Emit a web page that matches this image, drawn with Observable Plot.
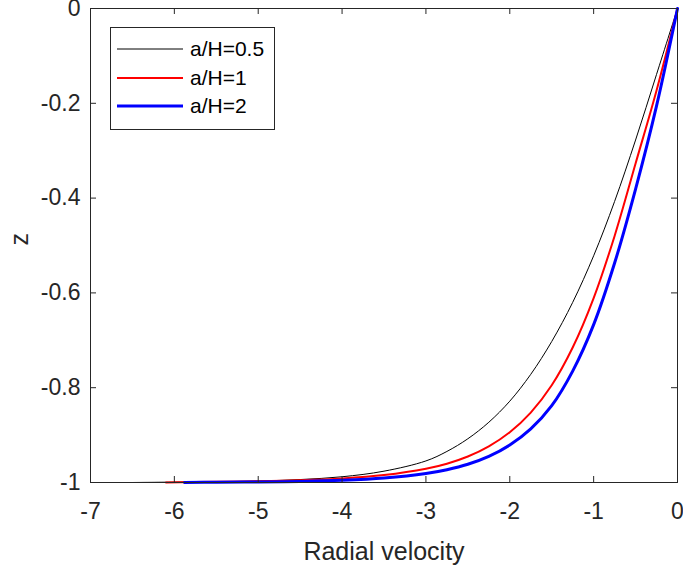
<!DOCTYPE html>
<html>
<head>
<meta charset="utf-8">
<script src="https://cdn.jsdelivr.net/npm/d3@7"></script>
<script src="https://cdn.jsdelivr.net/npm/@observablehq/plot@0.6"></script>
<style>
  html, body { margin: 0; padding: 0; background: #fff; }
  #wrap { position: relative; width: 683px; height: 574px; font-family: "Liberation Sans", Arial, sans-serif; }
  #legend { position: absolute; left: 110px; top: 27px; width: 165px; height: 103px; border: 1px solid #262626; background: #fff; box-sizing: border-box; }
  .row { position: absolute; left: 0; height: 28px; width: 100%; }
  .row svg { position: absolute; left: 6px; top: 0; }
  .row span { position: absolute; left: 79px; top: 0; line-height: 28px; font-size: 21px; color: #000; }
</style>
</head>
<body>
<div id="wrap"></div>
<script>
// ---- data ----
const seriesNames = ["a/H=0.5", "a/H=1", "a/H=2"];
const seriesColors = ["#000000", "#ff0000", "#0000ff"];
const seriesWidths = [1, 2, 3];

// radial velocity (x) and depth z (y), ordered from the deep end up to the surface
const xBlack = [-6.5, -6.0, -5.5, -5.0, -4.5, -4.0, -3.5, -3.0, -2.75, -2.5, -2.25, -2.0, -1.75, -1.5, -1.25, -1.0, -0.75, -0.5, -0.25, 0];
const zBlack = [-1.0, -0.9992, -0.9984, -0.9969, -0.9938, -0.9879, -0.9761, -0.9545, -0.9345, -0.9077, -0.8729, -0.8284, -0.7718, -0.7026, -0.620, -0.5217, -0.407, -0.2775, -0.139, 0];

const xRed = [-6.1, -5.5, -5.0, -4.5, -4.0, -3.5, -3.0, -2.75, -2.5, -2.25, -2.0, -1.75, -1.5, -1.25, -1.0, -0.75, -0.5, -0.25, 0];
const zRed = [-1.0, -0.9986, -0.9974, -0.9953, -0.9915, -0.9844, -0.9711, -0.9604, -0.9452, -0.9238, -0.894, -0.8525, -0.7949, -0.7153, -0.611, -0.4798, -0.327, -0.173, 0];

const xBlue = [-5.88, -5.5, -5.0, -4.5, -4.0, -3.5, -3.0, -2.75, -2.5, -2.25, -2.0, -1.75, -1.5, -1.25, -1.0, -0.75, -0.5, -0.25, 0];
const zBlue = [-1.0, -0.9995, -0.9989, -0.9977, -0.9953, -0.9905, -0.981, -0.973, -0.9616, -0.945, -0.921, -0.887, -0.838, -0.765, -0.667, -0.537, -0.381, -0.2055, 0];

const xTicks = [-7, -6, -5, -4, -3, -2, -1, 0];
const xTickLabels = ["-7", "-6", "-5", "-4", "-3", "-2", "-1", "0"];
const yTicks = [-1, -0.8, -0.6, -0.4, -0.2, 0];
const yTickLabels = ["-1", "-0.8", "-0.6", "-0.4", "-0.2", "0"];

const xLabel = "Radial velocity";
const yLabel = "z";

// ---- build ----
const W = 683, H = 574;
const mL = 90, mR = 6, mT = 8, mB = 92;
const plotW = W - mL - mR, plotH = H - mT - mB;
const tickLen = 6;
const axisColor = "#262626";

const toRows = (xs, zs, k) => xs.map((x, i) => ({x, z: zs[i], k}));
const rows = [
  toRows(xBlack, zBlack, 0),
  toRows(xRed, zRed, 1),
  toRows(xBlue, zBlue, 2)
];

const xFmt = new Map(xTicks.map((t, i) => [t, xTickLabels[i]]));
const yFmt = new Map(yTicks.map((t, i) => [t, yTickLabels[i]]));

const chart = Plot.plot({
  width: W,
  height: H,
  marginLeft: mL,
  marginRight: mR,
  marginTop: mT,
  marginBottom: mB,
  style: { color: axisColor, fontFamily: "'Liberation Sans', Arial, sans-serif", fontSize: "23px", background: "#fff", overflow: "visible" },
  x: { domain: [-7, 0] },
  y: { domain: [-1, 0] },
  marks: [
    ...rows.map((r, k) => Plot.line(r, {
      x: "x", y: "z", stroke: seriesColors[k], strokeWidth: seriesWidths[k], curve: "catmull-rom"
    })),
    Plot.frame({ stroke: axisColor, strokeWidth: 1 }),
    Plot.tickX(xTicks, { x: d => d, insetTop: plotH - tickLen, stroke: axisColor }),
    Plot.tickX(xTicks, { x: d => d, insetBottom: plotH - tickLen, stroke: axisColor }),
    Plot.tickY(yTicks, { y: d => d, insetRight: plotW - tickLen, stroke: axisColor }),
    Plot.tickY(yTicks, { y: d => d, insetLeft: plotW - tickLen, stroke: axisColor }),
    Plot.axisX(xTicks, { anchor: "bottom", tickSize: 0, tickPadding: 20, tickFormat: d => xFmt.get(d), label: null, fontSize: 23 }),
    Plot.axisY(yTicks, { anchor: "left", tickSize: 0, tickPadding: 10, tickFormat: d => yFmt.get(d), label: null, fontSize: 23 }),
    Plot.text([xLabel], { frameAnchor: "bottom", text: d => d, lineAnchor: "top", dy: 60, fontSize: 25 }),
    Plot.text([yLabel], { frameAnchor: "left", text: d => d, rotate: -90, lineAnchor: "bottom", dx: -63, fontSize: 25 })
  ]
});

const wrap = document.getElementById("wrap");
wrap.appendChild(chart);

// legend
const legend = document.createElement("div");
legend.id = "legend";
const rowTops = [7, 36, 64];
seriesNames.forEach((name, k) => {
  const row = document.createElement("div");
  row.className = "row";
  row.style.top = rowTops[k] + "px";
  const sw = d3.create("svg").attr("width", 66).attr("height", 28);
  sw.append("line").attr("x1", 0).attr("x2", 66).attr("y1", 14).attr("y2", 14)
    .attr("stroke", seriesColors[k]).attr("stroke-width", seriesWidths[k]);
  row.appendChild(sw.node());
  const sp = document.createElement("span");
  sp.textContent = name;
  row.appendChild(sp);
  legend.appendChild(row);
});
wrap.appendChild(legend);
</script>
</body>
</html>
